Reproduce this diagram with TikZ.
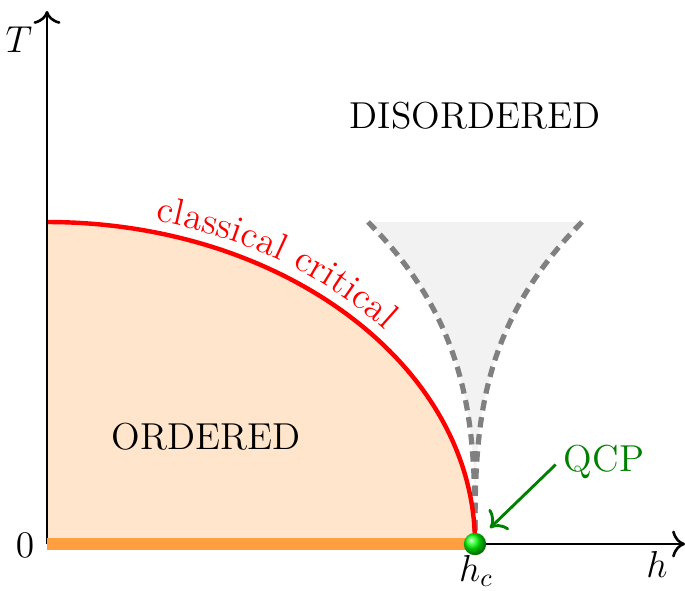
\documentclass[tikz,border=0pt]{standalone}
\usetikzlibrary{decorations.text,arrows.meta}
\begin{document}
\begin{tikzpicture}[x=0.384pt,y=0.384pt,
  axis/.style={line width=1pt,-{To[scale=1.3]}},
  lbl/.style={font=\Large,inner sep=0pt},
  funneledge/.style={gray,line width=2pt,dash pattern=on 4pt off 2.6pt},
  qcparrow/.style={green!50!black,line width=1.1pt,-{To[scale=1.3]}}]
\useasboundingbox (0,0) rectangle (685,590);
\coordinate (O) at (47,46);
\coordinate (Tend) at (47,579);
\coordinate (hend) at (685,46);
\coordinate (hc) at (475,46);
\coordinate (top) at (47,368);
\coordinate (qcptip) at (490,62);
% ordered region
\fill[orange!20] (O) -- (top) arc[start angle=90,end angle=0,x radius=428,y radius=322] -- cycle;
% quantum critical funnel
\fill[gray!10] plot[domain=1:0,samples=40,variable=\t] ({475-107*\t^3},{46+322*\t})
  -- plot[domain=0:1,samples=40,variable=\t] ({475+107*\t^3},{46+322*\t}) -- cycle;
\draw[funneledge] plot[domain=1:0,samples=60,variable=\t] ({475-107*\t^3},{46+322*\t});
\draw[funneledge] plot[domain=1:0,samples=60,variable=\t] ({475+107*\t^3},{46+322*\t});
% classical critical line
\draw[red,line width=1.7pt] (top) arc[start angle=90,end angle=0,x radius=428,y radius=322];
\path[decorate,decoration={text along path,text={|\Large\color{red}|classical critical},
  text align={left indent=41pt},raise=4.5pt}]
  (top) arc[start angle=90,end angle=0,x radius=428,y radius=322];
% axes
\draw[axis] (O) -- (Tend);
\draw[axis] (O) -- (hend);
\draw[orange!75,line width=4.6pt] (O) -- (hc);
\shade[ball color=green] (hc) circle (4.3pt);
% labels
\node[lbl] (T) at (19,550) {$T$};
\node[lbl] (zero) at (25,45) {$0$};
\node[lbl] (h) at (657,26) {$h$};
\node[lbl] (hclabel) at (476,19) {$h_c$};
\node[lbl] (dis) at (475,474) {DISORDERED};
\node[lbl] (ord) at (206,153) {ORDERED};
\node[lbl,text=green!50!black] (qcp) at (604,128) {QCP};
\draw[qcparrow] ([xshift=-3pt,yshift=-1pt]qcp.west) -- (qcptip);
\end{tikzpicture}
\end{document}
